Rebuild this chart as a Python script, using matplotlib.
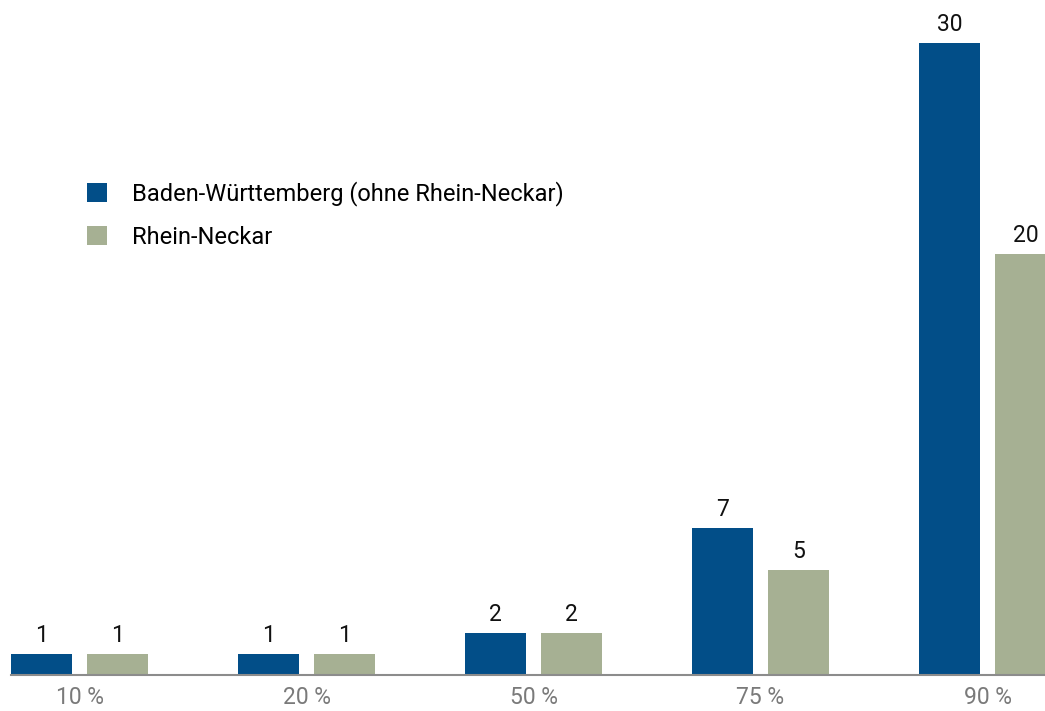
import matplotlib.pyplot as plt
import numpy as np

categories = ["10 %", "20 %", "50 %", "75 %", "90 %"]
bw_values = [1, 1, 2, 7, 30]
rn_values = [1, 1, 2, 5, 20]
series_names = ["Baden-Württemberg (ohne Rhein-Neckar)", "Rhein-Neckar"]

BLUE = "#024e88"
GREEN = "#a6b093"

plt.rcParams["font.family"] = ["Roboto", "DejaVu Sans"]

W, H = 1045, 711
fig = plt.figure(figsize=(W / 100, H / 100), dpi=100)

# pixel layout: group pitch 227px, first group centre at 79.5px, baseline at 675px
pitch = 227.0
x0 = 79.5
left_px, right_px = 11, W
base_px = 675
unit_px = 632 / 30

ax = fig.add_axes([left_px / W, (H - base_px) / H, (right_px - left_px) / W, base_px / H])
ax.set_xlim((left_px - x0) / pitch, (right_px - x0) / pitch)
ax.set_ylim(0, base_px / unit_px)

x = np.arange(len(categories))
width = 61 / pitch
offset = 38 / pitch

b1 = ax.bar(x - offset, bw_values, width, color=BLUE, label=series_names[0])
b2 = ax.bar(x + offset, rn_values, width, color=GREEN, label=series_names[1])
ax.bar_label(b1, padding=5, fontsize=16.5, color="#111111")
ax.bar_label(b2, padding=5, fontsize=16.5, color="#111111")

for s in ["top", "right", "left"]:
    ax.spines[s].set_visible(False)
ax.spines["bottom"].set_color("#8c8c8c")
ax.spines["bottom"].set_linewidth(1.5)
ax.set_yticks([])
ax.set_xticks(x)
ax.set_xticklabels(categories, fontsize=16.5, color="#7a7a7a")
ax.tick_params(axis="x", length=0, pad=8)

ax.legend(
    loc="upper left",
    bbox_to_anchor=(87 / W, 1 - 181 / H),
    bbox_transform=fig.transFigure,
    frameon=False,
    fontsize=17,
    handlelength=0.85,
    handleheight=0.85,
    handletextpad=1.06,
    labelspacing=0.85,
    borderpad=0,
    borderaxespad=0,
)

fig.savefig("out.png", dpi=100)
